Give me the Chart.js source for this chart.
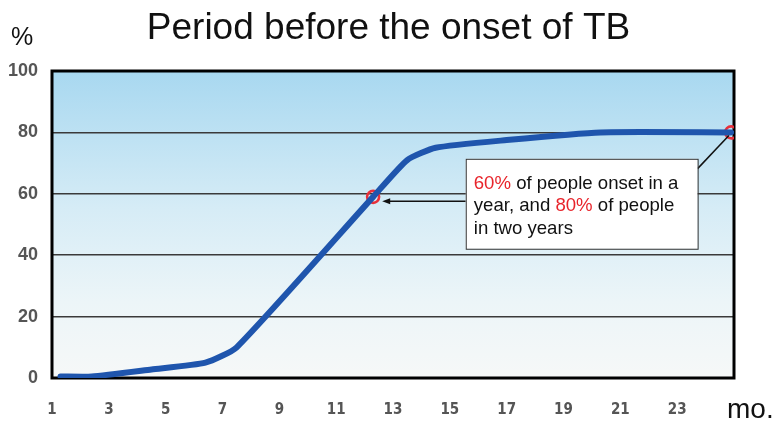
<!DOCTYPE html>
<html>
<head>
<meta charset="utf-8">
<script src="https://cdn.jsdelivr.net/npm/chart.js@4"></script>
<style>
  html, body { margin: 0; padding: 0; background: #fff; }
  #wrap { width: 777px; height: 422px; }
</style>
</head>
<body>
<div id="wrap"><canvas id="tbChart" width="777" height="422"></canvas></div>
<script>
// values (month, % of people with onset)
const months = [1.3, 2.4, 4.5, 6.4, 7.5, 12.3, 13.5, 14.5, 17, 20.3, 24.9];
const onsetPct = [0.5, 0.5, 2.8, 5, 10, 59, 71, 75, 77.5, 80, 80];
const xTickValues = [1, 3, 5, 7, 9, 11, 13, 15, 17, 19, 21, 23];
const yTickValues = [0, 20, 40, 60, 80, 100];
const markerMonths = [12.3, 24.9];
const markerPct = [59, 80];

// callout box and its two pointers, in data units
const noteBox = { x0: 15.56, x1: 23.72, y0: 71.4, y1: 42.1 };
const noteLines = [
  [{ t: '60%', red: true }, { t: ' of people onset in a' }],
  [{ t: 'year, and ' }, { t: '80%', red: true }, { t: ' of people' }],
  [{ t: 'in two years' }]
];
const arrowLeft = { from: [15.56, 57.6], to: [12.62, 57.6] };
const lineRight = { from: [23.72, 68.2], to: [24.82, 79.0] };

const FONT = '"Liberation Sans", Arial, sans-serif';

const decor = {
  id: 'decor',
  beforeDraw(chart) {
    const { ctx, chartArea: a } = chart;
    const g = ctx.createLinearGradient(0, a.top, 0, a.bottom);
    g.addColorStop(0, '#a8d8f0');
    g.addColorStop(0.45, '#d6ecf6');
    g.addColorStop(0.75, '#ecf5f8');
    g.addColorStop(1, '#f6f8f8');
    ctx.save();
    ctx.fillStyle = g;
    ctx.fillRect(a.left, a.top, a.right - a.left, a.bottom - a.top);
    ctx.restore();
  },
  beforeDatasetsDraw(chart) {
    const { ctx, chartArea: a } = chart;
    ctx.save();
    ctx.strokeStyle = '#000';
    ctx.lineWidth = 3;
    ctx.strokeRect(a.left, a.top, a.right - a.left, a.bottom - a.top);
    ctx.restore();
  },
  afterDatasetsDraw(chart) {
    const { ctx, scales: { x, y }, chartArea: a } = chart;
    const px = v => x.getPixelForValue(v);
    const py = v => y.getPixelForValue(v);
    ctx.save();

    // pointers
    ctx.strokeStyle = '#111';
    ctx.fillStyle = '#111';
    ctx.lineWidth = 1.5;
    const ax0 = px(arrowLeft.from[0]), ay = py(arrowLeft.from[1]), ax1 = px(arrowLeft.to[0]);
    ctx.beginPath(); ctx.moveTo(ax0, ay); ctx.lineTo(ax1 + 4, ay); ctx.stroke();
    ctx.beginPath(); ctx.moveTo(ax1, ay); ctx.lineTo(ax1 + 8, ay - 3); ctx.lineTo(ax1 + 8, ay + 3); ctx.closePath(); ctx.fill();
    ctx.beginPath();
    ctx.moveTo(px(lineRight.from[0]), py(lineRight.from[1]));
    ctx.lineTo(px(lineRight.to[0]), py(lineRight.to[1]));
    ctx.stroke();

    // box
    const bx = px(noteBox.x0), by = py(noteBox.y0);
    const bw = px(noteBox.x1) - bx, bh = py(noteBox.y1) - by;
    ctx.fillStyle = '#fff';
    ctx.fillRect(bx, by, bw, bh);
    ctx.strokeStyle = '#333';
    ctx.lineWidth = 1;
    ctx.strokeRect(bx + 0.5, by + 0.5, bw, bh);

    ctx.font = '18.6px ' + FONT;
    ctx.textBaseline = 'middle';
    noteLines.forEach((parts, i) => {
      let cx = bx + 8;
      const cy = by + 25 + i * 22.5;
      parts.forEach(p => {
        ctx.fillStyle = p.red ? '#e8242b' : '#111';
        ctx.fillText(p.t, cx, cy);
        cx += ctx.measureText(p.t).width;
      });
    });

    // unit labels
    ctx.fillStyle = '#111';
    ctx.textBaseline = 'alphabetic';
    ctx.font = '25px ' + FONT;
    ctx.fillText('%', 11, 45);
    ctx.font = '28px ' + FONT;
    ctx.fillText('mo.', a.right - 7, 418);
    ctx.restore();
  }
};

new Chart(document.getElementById('tbChart'), {
  type: 'scatter',
  data: {
    datasets: [
      {
        data: months.map((m, i) => ({ x: m, y: onsetPct[i] })),
        showLine: true,
        borderColor: '#1f55ad',
        borderWidth: 6,
        borderCapStyle: 'round',
        borderJoinStyle: 'round',
        tension: 0.18,
        pointRadius: 0,
        pointHoverRadius: 0
      },
      {
        data: markerMonths.map((m, i) => ({ x: m, y: markerPct[i] })),
        showLine: false,
        pointStyle: 'circle',
        pointRadius: 6,
        pointBorderWidth: 2.6,
        pointBorderColor: '#e8303a',
        pointBackgroundColor: 'rgba(0,0,0,0)'
      }
    ]
  },
  options: {
    responsive: false,
    animation: false,
    layout: { padding: { left: 0, right: 0, top: 0, bottom: 0 } },
    plugins: {
      legend: { display: false },
      tooltip: { enabled: false },
      title: {
        display: true,
        text: 'Period before the onset of TB',
        color: '#111',
        font: { family: FONT, size: 37, weight: 'normal' },
        padding: { top: 7, bottom: 19.6 }
      }
    },
    scales: {
      x: {
        type: 'linear',
        min: 1,
        max: 25,
        afterBuildTicks: s => { s.ticks = xTickValues.map(v => ({ value: v })); },
        afterFit: s => { s.height = 44; },
        grid: { display: false, drawTicks: false },
        border: { display: false },
        ticks: {
          color: '#555',
          padding: 23,
          font: { family: '"Liberation Sans Narrow", "DejaVu Sans Condensed", Arial, sans-serif', size: 15, weight: 'bold' }
        }
      },
      y: {
        min: 0,
        max: 100,
        afterBuildTicks: s => { s.ticks = yTickValues.map(v => ({ value: v })); },
        afterFit: s => { s.width = 52; },
        grid: {
          drawTicks: false,
          lineWidth: 1.5,
          color: c => (c.tick.value === 0 || c.tick.value === 100) ? 'rgba(0,0,0,0)' : '#3a3a3a'
        },
        border: { display: false },
        ticks: {
          color: '#555',
          padding: 14,
          font: { family: FONT, size: 18, weight: 'bold' }
        }
      },
      // empty right-hand axis that only reserves the margin beside the plot
      yRight: {
        position: 'right',
        min: 0,
        max: 100,
        afterFit: s => { s.width = 43; },
        grid: { display: false, drawTicks: false },
        border: { display: false },
        ticks: { display: false }
      }
    }
  },
  plugins: [decor]
});
</script>
</body>
</html>
